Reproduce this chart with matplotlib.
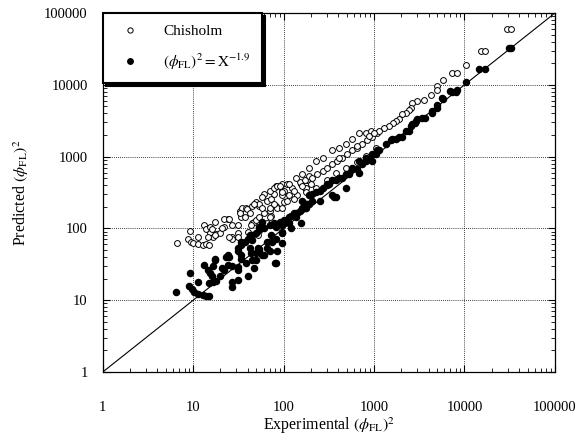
import numpy as np
import matplotlib
matplotlib.use("Agg")
import matplotlib.pyplot as plt

plt.rcParams["font.family"] = ["Liberation Serif", "DejaVu Serif"]
plt.rcParams["mathtext.fontset"] = "stix"

# --- data (experimental, predicted) ---
chisholm_x = [6.6, 9.1, 8.7, 9.4, 9.9, 11.2, 11.2, 12.7, 13.7, 14.8, 13, 14, 15.2, 16.4,
              17.2, 18, 19.6, 21.6, 24, 15.2, 14.4,
              16, 17.2, 22, 25, 21, 26.5, 27, 31, 32.5, 35, 38.7, 34, 40, 45, 50, 54, 61,
              65, 73, 79, 70, 61, 83, 95, 102, 115, 125, 141, 157, 170, 183,
              31, 25, 27, 37, 39, 45, 53, 58, 70, 83, 95, 47, 44, 54, 52, 65, 73, 85, 42, 58,
              31, 32.5, 47, 50, 54, 70, 79, 85, 95, 102, 110, 130, 150, 170, 193, 200, 178,
              79, 95, 70, 110, 130,
              90, 97, 115, 138, 160, 193, 230, 270, 345, 410, 490, 570, 680, 820, 930, 380,
              160, 207, 235, 270, 300, 345, 390, 445, 500, 570, 650, 740, 840, 950, 1080,
              178, 230, 300, 490, 640, 820, 1050, 410, 640, 880,
              15300, 17000, 10400, 7300, 8200, 5800, 5000, 5000, 4300, 3550, 3000, 2660,
              2540, 2430, 2260, 2050, 1900, 1760, 1600, 1470, 1300, 1140, 1000,
              29500, 33000]
chisholm_y = [62, 90.6, 70, 64, 62, 75, 60, 58, 60, 58, 110, 97, 85, 77,
              121, 83, 85, 103, 137, 103, 75,
              97, 80, 133, 137, 100, 75, 70, 85, 177, 190, 195, 142, 88, 117, 230, 208, 306,
              244, 260, 306, 177, 162, 208, 337, 230, 288, 370, 288, 420, 370, 465,
              77, 77, 110, 142, 185, 208, 222, 270, 337, 395, 420, 121, 110, 100, 80, 117, 150, 195, 166, 195,
              110, 162, 222, 130, 142, 190, 360, 395, 288, 337, 420, 337, 440, 465, 540, 420, 370,
              222, 195, 142, 244, 260,
              395, 317, 420, 510, 580, 700, 880, 960, 1220, 1330, 1520, 1780, 2100, 2150, 2300, 600,
              395, 510, 580, 640, 700, 800, 880, 960, 1090, 1220, 1330, 1520, 1680, 1850, 2100,
              317, 370, 465, 700, 830, 1020, 1300, 960, 1420, 1950,
              30000, 30000, 19000, 14700, 14700, 11600, 9600, 8500, 7200, 6200, 6000, 5600,
              4800, 4400, 4100, 3900, 3350, 3170, 2950, 2700, 2500, 2300, 2100,
              60000, 60000]

model_x = [6.4, 9.1, 8.9, 9.6, 10.1, 11.2, 11.2, 12.7, 13.7, 14.8, 13, 14.4, 15.2, 17.2,
           16, 14.8, 16.4, 17.7, 20, 22, 24, 23, 25, 27, 31, 26.5, 26.5, 31, 40, 45, 47,
           34, 37, 42, 50, 54, 58, 65, 70, 75, 81, 83, 95,
           17.2, 16.4, 21, 24, 31, 34, 45, 50, 54, 58, 38.7, 54, 73, 83, 95, 107, 121, 138,
           160, 183, 42, 44,
           31, 34, 40, 45, 54, 61, 70, 79, 90, 102, 115, 130, 150, 170, 193, 207, 52, 66,
           97, 121, 157, 34, 50, 61, 83, 85, 31,
           97, 115, 138, 178, 250, 300, 380, 345, 410, 490, 570, 680, 820, 950, 1140, 1360,
           1580, 1900, 2260, 2650, 2900, 3700, 4370, 5600, 7000, 8200, 10400, 14500, 17000,
           31000, 33000,
           8100, 7300, 5800, 5000, 5000, 4400, 3400, 3000, 2800, 2540, 2430, 2050, 1760, 1540,
           160, 193, 230, 270, 320, 380, 445, 530, 640, 740, 880, 1050, 178, 250, 345, 490,
           680, 950, 360, 207, 300, 410, 570, 820, 1080]
model_y = [12.9, 23.7, 15.6, 14.2, 12.9, 17.8, 12.1, 11.7, 11.4, 11.4, 30.6, 26, 23.7, 36,
           21.6, 17.2, 17.8, 18.3, 21.6, 26, 30.6, 40, 40, 30, 26, 17.8, 15.2, 19, 21.6, 36, 28,
           58, 64, 54, 46, 52, 42, 54, 49, 64, 33, 72, 85,
           38, 30, 28, 42, 54, 42, 68, 85, 103, 121, 33, 49, 80, 103, 110, 121, 150, 166,
           195, 222, 80, 45,
           49, 64, 72, 80, 95, 100, 110, 117, 121, 130, 142, 162, 177, 195, 222, 244, 54, 64,
           88, 100, 117, 38, 36, 42, 33, 49, 29,
           62, 117, 142, 222, 337, 420, 270, 465, 510, 580, 700, 880, 960, 1090, 1220, 1520,
           1780, 1850, 2300, 2870, 3170, 3480, 4100, 6600, 8200, 8500, 11000, 16600, 16600,
           32500, 32500,
           8000, 8000, 6400, 5300, 4800, 4370, 3480, 3350, 2950, 2700, 2300, 1850, 1780, 1700,
           244, 288, 317, 370, 420, 465, 510, 580, 680, 800, 930, 1090, 195, 244, 288, 360,
           600, 880, 270, 300, 400, 500, 680, 880, 1220]

decades = [1, 10, 100, 1000, 10000, 100000]
tick_labels = ["1", "10", "100", "1000", "10000", "100000"]

fig = plt.figure(figsize=(5.78, 4.36), dpi=100)
ax = fig.add_axes([0.178, 0.147, 0.782, 0.823])

ax.plot(decades, decades, color="black", linewidth=0.8, zorder=2)
ax.plot(chisholm_x, chisholm_y, linestyle="none", marker="o", markersize=4.2,
        markerfacecolor="white", markeredgecolor="black", markeredgewidth=0.7,
        label="Chisholm", zorder=3)
ax.plot(model_x, model_y, linestyle="none", marker="o", markersize=4.4,
        markerfacecolor="black", markeredgecolor="black",
        label=r"$(\phi_{\rm FL})^2 = {\rm X}^{-1.9}$", zorder=4)

ax.set_xscale("log")
ax.set_yscale("log")
ax.set_xlim(1, 100000)
ax.set_ylim(1, 100000)
ax.set_xticks(decades)
ax.set_xticklabels(tick_labels)
ax.set_yticks(decades)
ax.set_yticklabels(tick_labels)
ax.tick_params(which="both", direction="in", top=True, right=True, labelsize=10.5)
ax.tick_params(which="major", length=5, width=0.8)
ax.tick_params(which="minor", length=3, width=0.6)
ax.tick_params(axis="x", which="major", pad=21)
ax.tick_params(axis="y", which="major", pad=11)
ax.grid(True, which="major", linestyle=(0, (1, 1.5)), color="black", linewidth=0.6)
for s in ax.spines.values():
    s.set_linewidth(0.9)

ax.set_xlabel(r"Experimental $(\phi_{\rm FL})^2$", fontsize=11.5, labelpad=1)
ax.set_ylabel(r"Predicted $(\phi_{\rm FL})^2$", fontsize=11.5, labelpad=9)

leg = ax.legend(loc="upper left", bbox_to_anchor=(0, 1), borderaxespad=0,
                fancybox=False, shadow={"color": "black", "alpha": 1, "ox": 2, "oy": -2},
                frameon=True, edgecolor="black", fontsize=11, handletextpad=1.2,
                borderpad=0.75, labelspacing=0.85, handlelength=2.0, markerscale=0.9)
leg.get_frame().set_linewidth(1.5)

fig.savefig("out.png", dpi=100)
